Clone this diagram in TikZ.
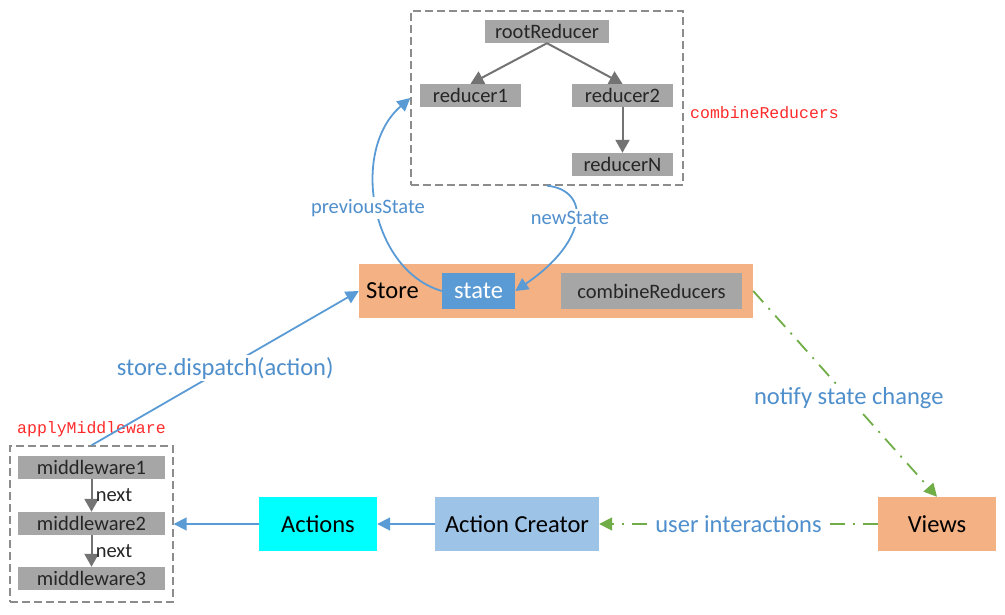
\documentclass[tikz,border=0pt]{standalone}
\usepackage{fontspec}
\setmainfont{Carlito}
\newfontfamily\redmono{Liberation Mono}
\usetikzlibrary{arrows.meta}
\definecolor{boxgray}{HTML}{A6A6A6}
\definecolor{dashgray}{HTML}{8C8C8C}
\definecolor{storeorange}{HTML}{F4B183}
\definecolor{stateblue}{HTML}{5B9BD5}
\definecolor{creatorblue}{HTML}{9DC3E6}
\definecolor{actioncyan}{HTML}{00FFFF}
\definecolor{labelblue}{HTML}{4F8FCC}
\definecolor{notifygreen}{HTML}{70AD47}
\definecolor{apired}{HTML}{FF2A2A}

\begin{document}
\begin{tikzpicture}[x=1pt,y=-1pt,
        graybox/.style={fill=boxgray,text=black!85,inner sep=0pt,minimum height=23pt,font=\fontsize{20.5}{23}\selectfont},
        dashbox/.style={draw=dashgray,line width=1.4pt,dash pattern=on 8pt off 4pt,inner sep=0pt},
        bigbox/.style={inner sep=0pt,minimum height=54pt,font=\fontsize{24.5}{28}\selectfont},
        grayarrow/.style={draw=gray!90!black,line width=2pt,-{Triangle[width=14pt,length=13pt]}},
        bluearrow/.style={draw=stateblue,line width=1.8pt,-{Triangle[width=13pt,length=13pt]}},
        greenarrow/.style={draw=notifygreen,line width=1.8pt,dash pattern=on 15pt off 8pt on 2pt off 8pt,-{Triangle[width=13pt,length=13pt]}},
        flowlabel/.style={fill=white,text=labelblue,inner sep=2pt,font=\fontsize{24.5}{28}\selectfont},
        apilabel/.style={text=apired,inner sep=0pt,font=\redmono\fontsize{16.5}{19}\selectfont}]
        \useasboundingbox (0,0) rectangle (1005,615);
        % combineReducers
        \node[dashbox,minimum width=272pt,minimum height=174pt] (reducerbox) at (547,98) {};
        \node[graybox,minimum width=124pt] (root) at (547,31.5) {rootReducer};
        \node[graybox,minimum width=101pt] (reducer1) at (470.5,95.5) {reducer1};
        \node[graybox,minimum width=101pt] (reducer2) at (622.5,95.5) {reducer2};
        \node[graybox,minimum width=101pt] (reducerN) at (622.5,164.5) {reducerN};
        \node[apilabel,anchor=west] (combinelabel) at (690,113) {combineReducers};
        \draw[grayarrow] (root.south) -- (reducer1.north);
        \draw[grayarrow] (root.south) -- (reducer2.north);
        \draw[grayarrow] (reducer2.south) -- (reducerN.north);
        % store
        \node[bigbox,fill=storeorange,minimum width=394pt] (store) at (556,291) {};
        \node[inner sep=0pt,anchor=west,font=\fontsize{24.5}{28}\selectfont] (storetext) at (366,291) {Store};
        \node[fill=stateblue,text=white,inner sep=0pt,minimum width=73pt,minimum height=36pt,font=\fontsize{24.5}{28}\selectfont] (state) at (478.5,291) {state};
        \node[graybox,minimum width=181pt,minimum height=36pt] (combine) at (651.5,291) {combineReducers};
        \draw[bluearrow] (state.west) .. controls (370,270) and (350,150) .. (reducerbox.west);
        \node[flowlabel,font=\fontsize{20.5}{23}\selectfont] (prevlabel) at (368,208) {previousState};
        \draw[bluearrow] (reducerbox.south) .. controls (590,190) and (590,240) .. (state.east);
        \node[flowlabel,font=\fontsize{20.5}{23}\selectfont] (newlabel) at (570,218) {newState};
        % middleware
        \node[dashbox,minimum width=163pt,minimum height=156pt] (mwbox) at (91.5,524) {};
        \node[graybox,minimum width=147pt] (mw1) at (91.5,467.5) {middleware1};
        \node[graybox,minimum width=147pt] (mw2) at (91.5,523.5) {middleware2};
        \node[graybox,minimum width=147pt] (mw3) at (91.5,578.5) {middleware3};
        \node[apilabel,anchor=west] (mwlabel) at (17,429) {applyMiddleware};
        \draw[grayarrow] (mw1.south) -- node[right,text=black!85,font=\fontsize{20.5}{23}\selectfont] {next} (mw2.north);
        \draw[grayarrow] (mw2.south) -- node[right,text=black!85,font=\fontsize{20.5}{23}\selectfont] {next} (mw3.north);
        \draw[bluearrow] (mwbox.north) -- node[flowlabel,pos=0.5] {store.dispatch(action)} (store.west);
        % actions and views
        \node[bigbox,fill=actioncyan,minimum width=118pt] (actions) at (318,524) {Actions};
        \node[bigbox,fill=creatorblue,minimum width=164pt] (creator) at (517,524) {Action Creator};
        \node[bigbox,fill=storeorange,minimum width=118pt] (views) at (937,524) {Views};
        \draw[bluearrow] (actions.west) -- (mwbox.east);
        \draw[bluearrow] (creator.west) -- (actions.east);
        \draw[greenarrow] (store.east) -- node[flowlabel,pos=0.52] {notify state change} (views.north);
        \draw[greenarrow] (views.west) -- node[flowlabel] {user interactions} (creator.east);
    \end{tikzpicture}
\end{document}
